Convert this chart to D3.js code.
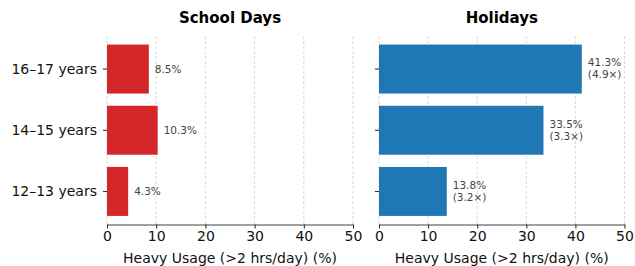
<!DOCTYPE html>
<html>
<head>
<meta charset="utf-8">
<script src="https://cdn.jsdelivr.net/npm/d3@7"></script>
<style>
  body { margin: 0; background: #fff; }
  svg { font-family: "DejaVu Sans", sans-serif; }
</style>
</head>
<body>
<svg id="chart" width="635" height="266"></svg>
<script>
// data
var groups = ["16–17 years", "14–15 years", "12–13 years"];
var school = [8.5, 10.3, 4.3];
var holiday = [41.3, 33.5, 13.8];
var ratios = ["4.9×", "3.3×", "3.2×"];
var ticks = [0, 10, 20, 30, 40, 50];

var svg = d3.select("#chart");
var top_y = 36, bottom_y = 224.5;

var y = d3.scaleBand()
    .domain(groups)
    .range([top_y, bottom_y])
    .paddingInner(0.2)
    .paddingOuter(0.14);

function panel(x0, x1, title, values, color, labels, show_names) {
    var x = d3.scaleLinear().domain([0, 50]).range([x0, x1]);
    var g = svg.append("g");

    // grid
    g.append("g")
        .selectAll("line")
        .data(ticks)
        .enter()
        .append("line")
            .attr("x1", d => x(d))
            .attr("x2", d => x(d))
            .attr("y1", top_y)
            .attr("y2", bottom_y)
            .attr("stroke", "#d0d0d0")
            .attr("stroke-width", 0.8)
            .attr("stroke-dasharray", "3,2");

    // bars
    g.append("g")
        .selectAll("rect")
        .data(values)
        .enter()
        .append("rect")
            .attr("x", x(0))
            .attr("y", (d, i) => y(groups[i]))
            .attr("width", d => x(d) - x(0))
            .attr("height", y.bandwidth())
            .attr("fill", color);

    // value labels
    var lab = g.append("g")
        .selectAll("text")
        .data(values)
        .enter()
        .append("text")
            .attr("x", d => x(d) + 6)
            .attr("y", (d, i) => y(groups[i]) + y.bandwidth() / 2)
            .attr("fill", "#444")
            .attr("font-size", "10.5px");

    lab.each(function(d, i) {
        var t = d3.select(this);
        if (labels) {
            t.append("tspan").attr("x", x(d) + 6).attr("dy", "-0.25em").text(d.toFixed(1) + "%");
            t.append("tspan").attr("x", x(d) + 6).attr("dy", "1.15em").text("(" + labels[i] + ")");
        } else {
            t.attr("dy", "0.35em").text(d.toFixed(1) + "%");
        }
    });

    // x axis
    var xa = g.append("g")
        .attr("transform", `translate(0,${bottom_y})`)
        .call(d3.axisBottom(x).tickValues(ticks).tickSize(4).tickPadding(3).tickSizeOuter(0));
    xa.select(".domain").attr("stroke", "#444").attr("stroke-width", 1.2);
    xa.selectAll(".tick line").attr("stroke", "#222");
    xa.selectAll("text").attr("font-size", "14px").attr("fill", "#111")
        .attr("font-family", "DejaVu Sans");

    // y axis
    var ya = g.append("g")
        .attr("transform", `translate(${x0},0)`)
        .call(d3.axisLeft(y).tickSize(4).tickPadding(6));
    ya.select(".domain").remove();
    ya.selectAll(".tick line").attr("stroke", "#222");
    ya.selectAll("text").attr("font-size", "14px").attr("fill", "#111")
        .attr("font-family", "DejaVu Sans");
    if (!show_names) ya.selectAll("text").remove();

    g.append("text")
        .attr("x", (x0 + x1) / 2)
        .attr("y", 258)
        .attr("dy", "0.35em")
        .attr("text-anchor", "middle")
        .attr("font-size", "14px")
        .attr("fill", "#111")
        .text("Heavy Usage (>2 hrs/day) (%)");

    g.append("text")
        .attr("x", (x0 + x1) / 2)
        .attr("y", 18)
        .attr("dy", "0.35em")
        .attr("text-anchor", "middle")
        .attr("font-size", "15px")
        .attr("font-weight", "bold")
        .text(title);
}

panel(107, 353, "School Days", school, "#d62728", null, true);
panel(379, 624.5, "Holidays", holiday, "#1f77b4", ratios, false);
</script>
</body>
</html>
